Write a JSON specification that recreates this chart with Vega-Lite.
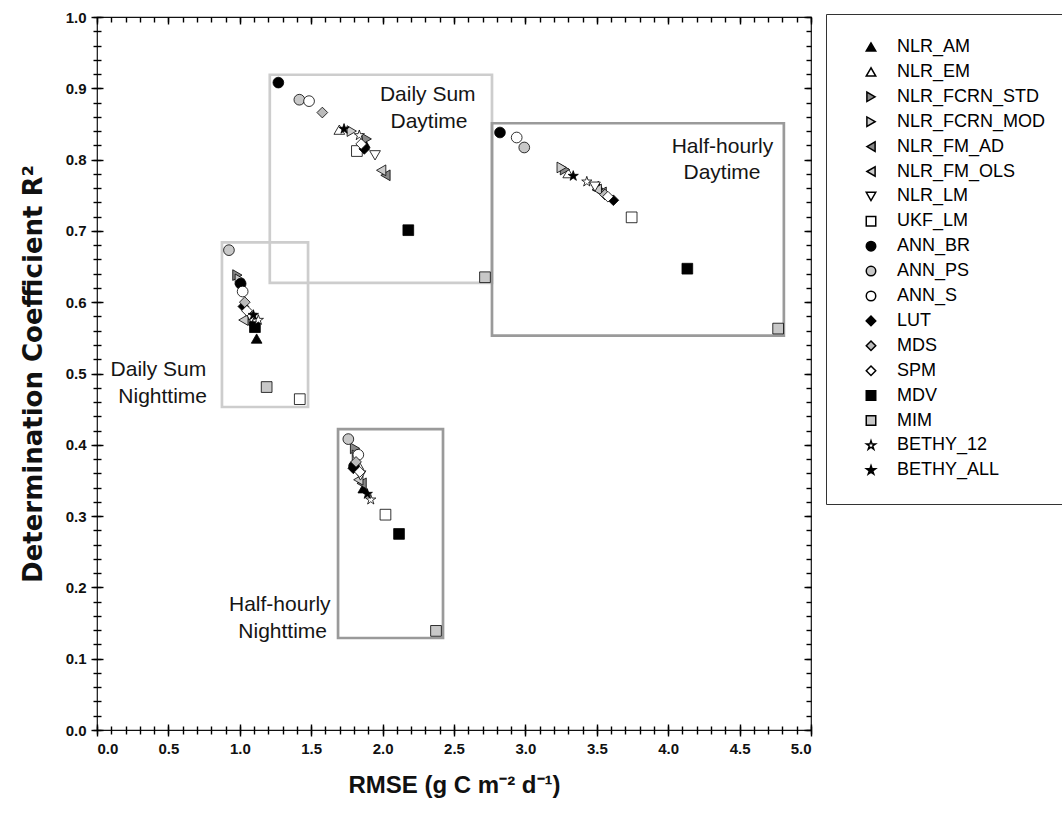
{
  "$schema": "https://vega.github.io/schema/vega-lite/v6.json",
  "width": 714,
  "height": 713,
  "autosize": {"type": "none"},
  "padding": {"left": 97, "top": 17, "right": 251, "bottom": 83},
  "background": "white",
  "datasets": {
    "points": [
      {"method": "NLR_AM", "cluster": "Daily Sum Daytime", "rmse": 1.875, "r2": 0.823},
      {"method": "NLR_EM", "cluster": "Daily Sum Daytime", "rmse": 1.697, "r2": 0.842},
      {"method": "NLR_FCRN_STD", "cluster": "Daily Sum Daytime", "rmse": 1.889, "r2": 0.829},
      {"method": "NLR_FCRN_MOD", "cluster": "Daily Sum Daytime", "rmse": 1.784, "r2": 0.84},
      {"method": "NLR_FM_AD", "cluster": "Daily Sum Daytime", "rmse": 2.02, "r2": 0.778},
      {"method": "NLR_FM_OLS", "cluster": "Daily Sum Daytime", "rmse": 1.99, "r2": 0.785},
      {"method": "NLR_LM", "cluster": "Daily Sum Daytime", "rmse": 1.947, "r2": 0.806},
      {"method": "UKF_LM", "cluster": "Daily Sum Daytime", "rmse": 1.82, "r2": 0.812},
      {"method": "ANN_BR", "cluster": "Daily Sum Daytime", "rmse": 1.27, "r2": 0.908},
      {"method": "ANN_PS", "cluster": "Daily Sum Daytime", "rmse": 1.417, "r2": 0.884},
      {"method": "ANN_S", "cluster": "Daily Sum Daytime", "rmse": 1.485, "r2": 0.882},
      {"method": "LUT", "cluster": "Daily Sum Daytime", "rmse": 1.872, "r2": 0.815},
      {"method": "MDS", "cluster": "Daily Sum Daytime", "rmse": 1.578, "r2": 0.866},
      {"method": "SPM", "cluster": "Daily Sum Daytime", "rmse": 1.85, "r2": 0.822},
      {"method": "MDV", "cluster": "Daily Sum Daytime", "rmse": 2.18, "r2": 0.701},
      {"method": "MIM", "cluster": "Daily Sum Daytime", "rmse": 2.717, "r2": 0.635},
      {"method": "BETHY_12", "cluster": "Daily Sum Daytime", "rmse": 1.837, "r2": 0.834},
      {"method": "BETHY_ALL", "cluster": "Daily Sum Daytime", "rmse": 1.73, "r2": 0.843},

      {"method": "NLR_AM", "cluster": "Half-hourly Daytime", "rmse": 3.51, "r2": 0.763},
      {"method": "NLR_EM", "cluster": "Half-hourly Daytime", "rmse": 3.3, "r2": 0.781},
      {"method": "NLR_FCRN_STD", "cluster": "Half-hourly Daytime", "rmse": 3.277, "r2": 0.786},
      {"method": "NLR_FCRN_MOD", "cluster": "Half-hourly Daytime", "rmse": 3.254, "r2": 0.789},
      {"method": "NLR_FM_AD", "cluster": "Half-hourly Daytime", "rmse": 3.534, "r2": 0.754},
      {"method": "NLR_FM_OLS", "cluster": "Half-hourly Daytime", "rmse": 3.5, "r2": 0.758},
      {"method": "NLR_LM", "cluster": "Half-hourly Daytime", "rmse": 3.487, "r2": 0.762},
      {"method": "UKF_LM", "cluster": "Half-hourly Daytime", "rmse": 3.744, "r2": 0.719},
      {"method": "ANN_BR", "cluster": "Half-hourly Daytime", "rmse": 2.822, "r2": 0.838},
      {"method": "ANN_PS", "cluster": "Half-hourly Daytime", "rmse": 2.992, "r2": 0.817},
      {"method": "ANN_S", "cluster": "Half-hourly Daytime", "rmse": 2.939, "r2": 0.831},
      {"method": "LUT", "cluster": "Half-hourly Daytime", "rmse": 3.616, "r2": 0.743},
      {"method": "MDS", "cluster": "Half-hourly Daytime", "rmse": 3.557, "r2": 0.751},
      {"method": "SPM", "cluster": "Half-hourly Daytime", "rmse": 3.578, "r2": 0.748},
      {"method": "MDV", "cluster": "Half-hourly Daytime", "rmse": 4.134, "r2": 0.647},
      {"method": "MIM", "cluster": "Half-hourly Daytime", "rmse": 4.77, "r2": 0.563},
      {"method": "BETHY_12", "cluster": "Half-hourly Daytime", "rmse": 3.43, "r2": 0.769},
      {"method": "BETHY_ALL", "cluster": "Half-hourly Daytime", "rmse": 3.335, "r2": 0.777},

      {"method": "NLR_AM", "cluster": "Daily Sum Nighttime", "rmse": 1.118, "r2": 0.549},
      {"method": "NLR_EM", "cluster": "Daily Sum Nighttime", "rmse": 1.07, "r2": 0.584},
      {"method": "NLR_FCRN_STD", "cluster": "Daily Sum Nighttime", "rmse": 0.983, "r2": 0.638},
      {"method": "NLR_FCRN_MOD", "cluster": "Daily Sum Nighttime", "rmse": 1.0, "r2": 0.632},
      {"method": "NLR_FM_AD", "cluster": "Daily Sum Nighttime", "rmse": 1.06, "r2": 0.572},
      {"method": "NLR_FM_OLS", "cluster": "Daily Sum Nighttime", "rmse": 1.025, "r2": 0.575},
      {"method": "NLR_LM", "cluster": "Daily Sum Nighttime", "rmse": 1.08, "r2": 0.578},
      {"method": "UKF_LM", "cluster": "Daily Sum Nighttime", "rmse": 1.42, "r2": 0.464},
      {"method": "ANN_BR", "cluster": "Daily Sum Nighttime", "rmse": 1.006, "r2": 0.626},
      {"method": "ANN_PS", "cluster": "Daily Sum Nighttime", "rmse": 0.924, "r2": 0.673},
      {"method": "ANN_S", "cluster": "Daily Sum Nighttime", "rmse": 1.02, "r2": 0.615},
      {"method": "LUT", "cluster": "Daily Sum Nighttime", "rmse": 1.025, "r2": 0.594},
      {"method": "MDS", "cluster": "Daily Sum Nighttime", "rmse": 1.035, "r2": 0.6},
      {"method": "SPM", "cluster": "Daily Sum Nighttime", "rmse": 1.05, "r2": 0.588},
      {"method": "MDV", "cluster": "Daily Sum Nighttime", "rmse": 1.106, "r2": 0.565},
      {"method": "MIM", "cluster": "Daily Sum Nighttime", "rmse": 1.188, "r2": 0.481},
      {"method": "BETHY_12", "cluster": "Daily Sum Nighttime", "rmse": 1.13, "r2": 0.575},
      {"method": "BETHY_ALL", "cluster": "Daily Sum Nighttime", "rmse": 1.095, "r2": 0.582},

      {"method": "NLR_AM", "cluster": "Half-hourly Nighttime", "rmse": 1.865, "r2": 0.339},
      {"method": "NLR_EM", "cluster": "Half-hourly Nighttime", "rmse": 1.83, "r2": 0.372},
      {"method": "NLR_FCRN_STD", "cluster": "Half-hourly Nighttime", "rmse": 1.807, "r2": 0.395},
      {"method": "NLR_FCRN_MOD", "cluster": "Half-hourly Nighttime", "rmse": 1.82, "r2": 0.385},
      {"method": "NLR_FM_AD", "cluster": "Half-hourly Nighttime", "rmse": 1.853, "r2": 0.346},
      {"method": "NLR_FM_OLS", "cluster": "Half-hourly Nighttime", "rmse": 1.83, "r2": 0.351},
      {"method": "NLR_LM", "cluster": "Half-hourly Nighttime", "rmse": 1.845, "r2": 0.357},
      {"method": "UKF_LM", "cluster": "Half-hourly Nighttime", "rmse": 2.02, "r2": 0.302},
      {"method": "ANN_BR", "cluster": "Half-hourly Nighttime", "rmse": 1.8, "r2": 0.37},
      {"method": "ANN_PS", "cluster": "Half-hourly Nighttime", "rmse": 1.76, "r2": 0.408},
      {"method": "ANN_S", "cluster": "Half-hourly Nighttime", "rmse": 1.83, "r2": 0.386},
      {"method": "LUT", "cluster": "Half-hourly Nighttime", "rmse": 1.795, "r2": 0.367},
      {"method": "MDS", "cluster": "Half-hourly Nighttime", "rmse": 1.814, "r2": 0.376},
      {"method": "SPM", "cluster": "Half-hourly Nighttime", "rmse": 1.84, "r2": 0.362},
      {"method": "MDV", "cluster": "Half-hourly Nighttime", "rmse": 2.115, "r2": 0.275},
      {"method": "MIM", "cluster": "Half-hourly Nighttime", "rmse": 2.374, "r2": 0.139},
      {"method": "BETHY_12", "cluster": "Half-hourly Nighttime", "rmse": 1.917, "r2": 0.323},
      {"method": "BETHY_ALL", "cluster": "Half-hourly Nighttime", "rmse": 1.893, "r2": 0.331}
    ],
    "boxes": [
      {"cluster": "Daily Sum Daytime", "res": "Daily Sum", "x1": 1.21, "x2": 2.766, "y1": 0.627, "y2": 0.919},
      {"cluster": "Half-hourly Daytime", "res": "Half-hourly", "x1": 2.766, "x2": 4.81, "y1": 0.553, "y2": 0.851},
      {"cluster": "Daily Sum Nighttime", "res": "Daily Sum", "x1": 0.875, "x2": 1.478, "y1": 0.453, "y2": 0.684},
      {"cluster": "Half-hourly Nighttime", "res": "Half-hourly", "x1": 1.688, "x2": 2.423, "y1": 0.129, "y2": 0.422}
    ],
    "labels": [
      {"part": "day", "text": "Daily Sum", "x": 2.316, "y": 0.891},
      {"part": "day", "text": "Daytime", "x": 2.325, "y": 0.853},
      {"part": "day", "text": "Half-hourly", "x": 4.38, "y": 0.817},
      {"part": "day", "text": "Daytime", "x": 4.377, "y": 0.781},
      {"part": "night", "text": "Daily Sum", "x": 0.43, "y": 0.505},
      {"part": "night", "text": "Nighttime", "x": 0.46, "y": 0.467},
      {"part": "night", "text": "Half-hourly", "x": 1.28, "y": 0.175},
      {"part": "night", "text": "Nighttime", "x": 1.3, "y": 0.137}
    ]
  },
  "resolve": {"axis": {"x": "independent", "y": "independent"}},
  "layer": [
    {
      "data": {"name": "boxes"},
      "mark": {"type": "rect", "fill": "transparent", "strokeWidth": 2.7},
      "encoding": {
        "x": {"field": "x1", "type": "quantitative", "scale": {"domain": [0, 5], "nice": false, "zero": false},
          "axis": {"orient": "bottom", "values": [0,0.1,0.2,0.3,0.4,0.5,0.6,0.7,0.8,0.9,1,1.1,1.2,1.3,1.4,1.5,1.6,1.7,1.8,1.9,2,2.1,2.2,2.3,2.4,2.5,2.6,2.7,2.8,2.9,3,3.1,3.2,3.3,3.4,3.5,3.6,3.7,3.8,3.9,4,4.1,4.2,4.3,4.4,4.5,4.6,4.7,4.8,4.9,5], "offset": -4, "ticks": true, "tickSize": 8, "tickColor": "black", "tickWidth": 1.4, "tickOpacity": 1, "labels": false, "domain": false, "grid": false, "title": null, "zindex": 2}},
        "x2": {"field": "x2"},
        "y": {"field": "y1", "type": "quantitative", "scale": {"domain": [0, 1], "nice": false, "zero": false},
          "axis": {"orient": "left", "values": [0,0.02,0.04,0.06,0.08,0.1,0.12,0.14,0.16,0.18,0.2,0.22,0.24,0.26,0.28,0.3,0.32,0.34,0.36,0.38,0.4,0.42,0.44,0.46,0.48,0.5,0.52,0.54,0.56,0.58,0.6,0.62,0.64,0.66,0.68,0.7,0.72,0.74,0.76,0.78,0.8,0.82,0.84,0.86,0.88,0.9,0.92,0.94,0.96,0.98,1], "offset": -4, "ticks": true, "tickSize": 8, "tickColor": "black", "tickWidth": 1.4, "tickOpacity": 1, "labels": false, "domain": false, "grid": false, "title": null, "zindex": 2}},
        "y2": {"field": "y2"},
        "stroke": {"field": "res", "type": "nominal", "scale": {"domain": ["Daily Sum", "Half-hourly"], "range": ["#cdcdcd", "#9a9a9a"]}, "legend": null}
      }
    },
    {
      "data": {"name": "labels"},
      "transform": [{"filter": "datum.part == 'day'"}],
      "mark": {"type": "text", "font": "Liberation Sans", "fontSize": 21, "color": "#151515", "align": "center", "baseline": "middle"},
      "encoding": {
        "x": {"field": "x", "type": "quantitative", "scale": {"domain": [0, 5], "nice": false, "zero": false},
          "axis": {"orient": "top", "values": [0,0.5,1,1.5,2,2.5,3,3.5,4,4.5,5], "ticks": true, "tickSize": -7, "tickColor": "black", "tickWidth": 1.4, "labels": false, "domain": false, "grid": false, "title": null, "zindex": 2}},
        "y": {"field": "y", "type": "quantitative", "scale": {"domain": [0, 1], "nice": false, "zero": false},
          "axis": {"orient": "right", "values": [0,0.1,0.2,0.3,0.4,0.5,0.6,0.7,0.8,0.9,1], "ticks": true, "tickSize": -7, "tickColor": "black", "tickWidth": 1.4, "labels": false, "domain": false, "grid": false, "title": null, "zindex": 2}},
        "text": {"field": "text", "type": "nominal"}
      }
    },
    {
      "data": {"name": "labels"},
      "transform": [{"filter": "datum.part == 'night'"}],
      "mark": {"type": "text", "font": "Liberation Sans", "fontSize": 21, "color": "#151515", "align": "center", "baseline": "middle"},
      "encoding": {
        "x": {"field": "x", "type": "quantitative", "scale": {"domain": [0, 5], "nice": false, "zero": false},
          "axis": {"orient": "top", "values": [0,0.1,0.2,0.3,0.4,0.5,0.6,0.7,0.8,0.9,1,1.1,1.2,1.3,1.4,1.5,1.6,1.7,1.8,1.9,2,2.1,2.2,2.3,2.4,2.5,2.6,2.7,2.8,2.9,3,3.1,3.2,3.3,3.4,3.5,3.6,3.7,3.8,3.9,4,4.1,4.2,4.3,4.4,4.5,4.6,4.7,4.8,4.9,5], "ticks": true, "tickSize": -5, "tickColor": "black", "tickWidth": 1.4, "labels": false, "domain": false, "grid": false, "title": null, "zindex": 2}},
        "y": {"field": "y", "type": "quantitative", "scale": {"domain": [0, 1], "nice": false, "zero": false},
          "axis": {"orient": "right", "values": [0,0.02,0.04,0.06,0.08,0.1,0.12,0.14,0.16,0.18,0.2,0.22,0.24,0.26,0.28,0.3,0.32,0.34,0.36,0.38,0.4,0.42,0.44,0.46,0.48,0.5,0.52,0.54,0.56,0.58,0.6,0.62,0.64,0.66,0.68,0.7,0.72,0.74,0.76,0.78,0.8,0.82,0.84,0.86,0.88,0.9,0.92,0.94,0.96,0.98,1], "ticks": true, "tickSize": -5, "tickColor": "black", "tickWidth": 1.4, "labels": false, "domain": false, "grid": false, "title": null, "zindex": 2}},
        "text": {"field": "text", "type": "nominal"}
      }
    },
    {
      "data": {"name": "points"},
      "mark": {"type": "point", "filled": true, "stroke": "#000", "strokeWidth": 0.8, "size": 115, "opacity": 1},
      "encoding": {
        "x": {"field": "rmse", "type": "quantitative", "scale": {"domain": [0, 5], "nice": false, "zero": false},
          "axis": {"orient": "bottom", "values": [0,0.5,1,1.5,2,2.5,3,3.5,4,4.5,5], "format": ".1f", "offset": -6, "ticks": true, "tickSize": 12, "tickColor": "black", "tickWidth": 1.4, "tickOpacity": 1, "domain": false, "grid": false, "labelPadding": 5, "labelFont": "Liberation Sans", "labelFontWeight": "bold", "labelFontSize": 15, "labelColor": "#111", "title": "RMSE (g C m⁻² d⁻¹)", "titleFont": "Liberation Sans", "titleFontWeight": "bold", "titleFontSize": 24, "titleColor": "#111", "titlePadding": 17, "zindex": 2}},
        "y": {"field": "r2", "type": "quantitative", "scale": {"domain": [0, 1], "nice": false, "zero": false},
          "axis": {"orient": "left", "values": [0,0.1,0.2,0.3,0.4,0.5,0.6,0.7,0.8,0.9,1], "format": ".1f", "offset": -6, "ticks": true, "tickSize": 12, "tickColor": "black", "tickWidth": 1.4, "tickOpacity": 1, "domain": false, "grid": false, "labelPadding": 5, "labelFont": "Liberation Sans", "labelFontWeight": "bold", "labelFontSize": 15, "labelColor": "#111", "title": "Determination Coefficient R²", "titleFont": "DejaVu Sans", "titleFontWeight": "bold", "titleFontSize": 26, "titleColor": "#111", "titlePadding": 19, "zindex": 2}},
        "fill": {"field": "method", "type": "nominal",
          "scale": {"domain": ["NLR_AM","NLR_EM","NLR_FCRN_STD","NLR_FCRN_MOD","NLR_FM_AD","NLR_FM_OLS","NLR_LM","UKF_LM","ANN_BR","ANN_PS","ANN_S","LUT","MDS","SPM","MDV","MIM","BETHY_12","BETHY_ALL"],
            "range": ["#000000","#ffffff","#888888","#cccccc","#888888","#cccccc","#ffffff","#ffffff","#000000","#c8c8c8","#ffffff","#000000","#bbbbbb","#ffffff","#000000","#c8c8c8","#ffffff","#000000"]},
          "legend": {"title": null, "orient": "none", "legendX": 729, "legendY": -3, "padding": 24, "strokeColor": "#333", "fillColor": "white", "symbolSize": 90, "symbolOffset": 12, "labelOffset": 17, "labelFont": "Liberation Sans", "labelFontSize": 18, "labelColor": "#000", "rowPadding": 6.9, "labelLimit": 300,
            "encode": {"symbols": {"update": {"stroke": {"value": "#000"}, "strokeWidth": {"value": 0.8}}}}}},
        "shape": {"field": "method", "type": "nominal",
          "scale": {"domain": ["NLR_AM","NLR_EM","NLR_FCRN_STD","NLR_FCRN_MOD","NLR_FM_AD","NLR_FM_OLS","NLR_LM","UKF_LM","ANN_BR","ANN_PS","ANN_S","LUT","MDS","SPM","MDV","MIM","BETHY_12","BETHY_ALL"],
            "range": ["triangle-up","triangle-up","triangle-right","triangle-right","triangle-left","triangle-left","triangle-down","square","circle","circle","circle","diamond","diamond","diamond","square","square","M0,-1L0.2245,-0.309L0.9511,-0.309L0.3633,0.118L0.5878,0.809L0,0.382L-0.5878,0.809L-0.3633,0.118L-0.9511,-0.309L-0.2245,-0.309Z","M0,-1L0.2245,-0.309L0.9511,-0.309L0.3633,0.118L0.5878,0.809L0,0.382L-0.5878,0.809L-0.3633,0.118L-0.9511,-0.309L-0.2245,-0.309Z"]},
          "legend": {"title": null, "orient": "none", "legendX": 729, "legendY": -3, "padding": 24, "strokeColor": "#333", "fillColor": "white", "symbolSize": 90, "symbolOffset": 12, "labelOffset": 17, "labelFont": "Liberation Sans", "labelFontSize": 18, "labelColor": "#000", "rowPadding": 6.9, "labelLimit": 300,
            "encode": {"symbols": {"update": {"stroke": {"value": "#000"}, "strokeWidth": {"value": 0.8}}}}}}
      }
    }
  ],
  "config": {
    "view": {"stroke": "#111", "strokeWidth": 1.2},
    "axis": {"grid": false, "domain": false, "tickColor": "#111", "tickWidth": 1}
  }
}
